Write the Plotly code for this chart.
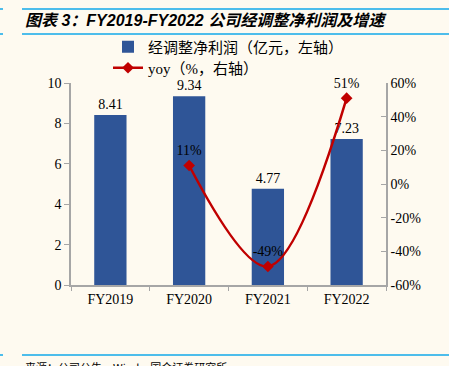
import plotly.graph_objects as go

categories = ["FY2019", "FY2020", "FY2021", "FY2022"]
profit = [8.41, 9.34, 4.77, 7.23]
yoy_cats = ["FY2020", "FY2021", "FY2022"]
yoy = [11, -49, 51]
yoy_labels = ["11%", "-49%", "51%"]
left_ticks = [0, 2, 4, 6, 8, 10]
right_ticks = [-60, -40, -20, 0, 20, 40, 60]
right_labels = ["-60%", "-40%", "-20%", "0%", "20%", "40%", "60%"]

W, H = 449, 366
L, R, T, B = 71, 386, 83, 285

def px(x):
    return (x - L) / (R - L)

def py(y):
    return (B - y) / (B - T)

BG = "#FEFAF0"
BLUE = "#2F5597"
RED = "#C00000"
LINE = "#4DBDEB"
AXIS = "#A6A6A6"
SERIF = "Liberation Serif, Times New Roman, serif"
CJK = "Liberation Serif, Noto Sans CJK SC, serif"

fig = go.Figure()
fig.add_trace(go.Bar(
    x=categories, y=profit, name="经调整净利润（亿元，左轴）",
    marker=dict(color=BLUE, line=dict(width=0)), width=0.41,
    text=[f"{v:.2f}" for v in profit], textposition="outside",
    textfont=dict(family=SERIF, size=14, color="#000000"),
    cliponaxis=False, yaxis="y", legend="legend",
))
fig.add_trace(go.Scatter(
    x=yoy_cats, y=yoy, name="yoy（%，右轴）", mode="lines+markers+text",
    line=dict(color=RED, width=2.5, shape="spline", smoothing=1.0),
    marker=dict(symbol="diamond", size=9, color=RED),
    text=yoy_labels, textposition="top center",
    textfont=dict(family=SERIF, size=14, color="#000000"),
    cliponaxis=False, yaxis="y2", legend="legend2",
))

shapes = []
for yy in (9, 34, 355):
    shapes.append(dict(type="line", xref="paper", yref="paper", x0=px(22), x1=px(449), y0=py(yy), y1=py(yy),
                       line=dict(color=LINE, width=2)))
    shapes.append(dict(type="line", xref="paper", yref="paper", x0=px(0), x1=px(3), y0=py(yy), y1=py(yy),
                       line=dict(color=LINE, width=2)))

annotations = [
    dict(xref="paper", yref="paper", x=px(23), y=py(21), xanchor="left", yanchor="middle", showarrow=False,
         text="<b><i>图表 3：FY2019-FY2022 公司经调整净利润及增速</i></b>",
         font=dict(family="Liberation Sans, Arial, Noto Sans CJK SC, sans-serif", size=16, color="#000000")),
    dict(xref="paper", yref="paper", x=px(23), y=py(357), xanchor="left", yanchor="top", showarrow=False,
         text="来源：公司公告，Wind，国金证券研究所",
         font=dict(family="Noto Sans CJK SC, sans-serif", size=11, color="#000000")),
]

legend_common = dict(xanchor="left", yanchor="middle", bgcolor="rgba(0,0,0,0)",
                     font=dict(family=CJK, size=15, color="#000000"), itemwidth=30)

fig.update_layout(
    width=W, height=H,
    margin=dict(l=L, r=W - R, t=T, b=H - B, pad=0, autoexpand=False),
    paper_bgcolor=BG, plot_bgcolor=BG,
    showlegend=True,
    legend=dict(x=px(108), y=py(47), **legend_common),
    legend2=dict(x=px(108), y=py(68), **legend_common),
    bargap=0.59,
    xaxis=dict(type="category", showline=True, linecolor=AXIS, linewidth=1.5, ticks="outside",
               tickson="boundaries", ticklen=4, tickcolor=AXIS, showgrid=False,
               tickfont=dict(family=SERIF, size=14, color="#000000")),
    yaxis=dict(range=[0, 10], tickvals=left_ticks, showline=True, linecolor=AXIS, linewidth=1.5,
               ticks="outside", ticklen=5, tickcolor=AXIS, showgrid=False, zeroline=False,
               tickfont=dict(family=SERIF, size=14, color="#000000")),
    yaxis2=dict(range=[-60, 60], tickvals=right_ticks, ticktext=right_labels, overlaying="y", side="right",
                showline=True, linecolor=AXIS, linewidth=1.5, ticks="inside", ticklen=5,
                tickcolor=AXIS, showgrid=False, zeroline=False,
                tickfont=dict(family=SERIF, size=14, color="#000000")),
    shapes=shapes, annotations=annotations,
)

fig.write_html(
    "out.html",
    config={"displayModeBar": False},
    post_script="document.body.style.margin='0';document.body.style.overflow='hidden';"
                "document.body.style.background='#FEFAF0';",
)
